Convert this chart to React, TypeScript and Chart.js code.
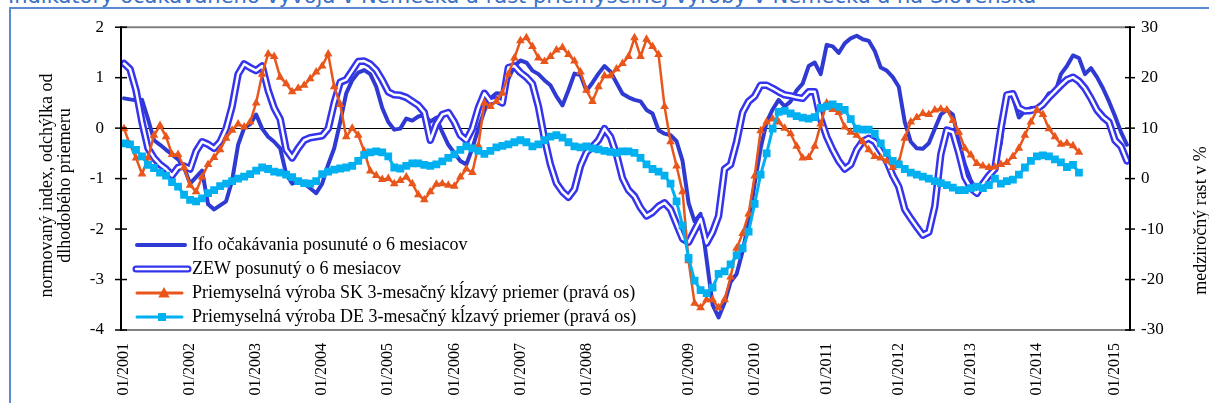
import React, { useEffect, useRef } from 'react';
import { Chart, registerables } from 'chart.js';

Chart.register(...registerables);

const TITLE = 'Indikátory očakávaného vývoja v Nemecku a rast priemyselnej výroby v Nemecku a na Slovensku';
const N_MONTHS = 168;
const tickLabels = ['01/2001', '01/2002', '01/2003', '01/2004', '01/2005', '01/2006', '01/2007', '01/2008', '01/2009', '01/2010', '01/2011', '01/2012', '01/2013', '01/2014', '01/2015'];
const tickIndex = [0, 11, 22, 33, 44, 55, 66, 77, 94, 105, 117, 129, 141, 152, 165];

const seriesNames = [
  'Ifo očakávania posunuté o 6 mesiacov',
  'ZEW posunutý o 6 mesiacov',
  'Priemyselná výroba SK 3-mesačný kĺzavý priemer (pravá os)',
  'Priemyselná výroba DE 3-mesačný kĺzavý priemer (pravá os)',
];
const leftAxisTitle = ['normovaný index, odchýlka od', 'dlhodobého priemeru'];
const rightAxisTitle = 'medziročný rast v %';

const ifo = [
  0.59, 0.57, 0.55, 0.56, 0.18, -0.24, -0.33, -0.43, -0.52, -0.62,
  -0.78, -1.10, -0.97, -0.84, -1.51, -1.61, -1.53, -1.45, -1.04, -0.33,
  0.00, 0.08, 0.27, -0.01, -0.17, -0.27, -0.40, -0.91, -1.10, -1.07,
  -1.10, -1.19, -1.29, -1.10, -0.72, -0.40, 0.12, 0.69, 0.95, 1.10,
  1.15, 1.07, 0.82, 0.40, 0.12, -0.03, -0.01, 0.19, 0.15, 0.23,
  0.26, 0.13, 0.21, -0.08, -0.33, -0.49, -0.65, -0.72, -0.40, -0.01,
  0.34, 0.59, 0.69, 0.68, 0.98, 1.23, 1.34, 1.30, 1.14, 1.07,
  0.95, 0.85, 0.63, 0.45, 0.75, 1.08, 1.05, 0.74, 0.90, 1.08,
  1.23, 1.12, 0.90, 0.68, 0.61, 0.56, 0.53, 0.36, 0.29, -0.04,
  -0.11, -0.14, -0.26, -0.65, -1.48, -1.85, -1.70, -2.60, -3.50, -3.75,
  -3.46, -3.05, -2.89, -2.44, -1.87, -1.10, -0.40, 0.12, 0.37, 0.56,
  0.43, 0.53, 0.75, 0.88, 1.23, 1.30, 1.07, 1.65, 1.62, 1.49,
  1.68, 1.78, 1.83, 1.76, 1.73, 1.53, 1.20, 1.14, 1.01, 0.82,
  0.12, -0.27, -0.40, -0.41, -0.30, -0.01, 0.27, 0.36, 0.27, -0.27,
  -0.72, -1.04, -1.23, -1.10, -0.94, -0.78, -0.30, 0.66, 0.62, 0.21,
  0.34, 0.40, 0.38, 0.50, 0.69, 0.69, 1.07, 1.23, 1.44, 1.39,
  1.07, 1.19, 1.01, 0.79, 0.53, 0.24, -0.08, -0.33,
];

const zew = [
  1.28, 1.17, 0.75, 0.12, -0.40, -0.59, -0.72, -0.81, -0.94, -0.78,
  -0.75, -0.81, -0.46, -0.27, -0.32, -0.40, -0.27, -0.01, 0.43, 1.07,
  1.27, 1.20, 1.14, 1.23, 0.75, 0.40, 0.18, -0.43, -0.59, -0.40,
  -0.24, -0.19, -0.17, -0.15, -0.01, 0.50, 0.91, 0.96, 1.14, 1.32,
  1.33, 1.27, 1.15, 0.95, 0.72, 0.66, 0.65, 0.61, 0.53, 0.45,
  0.31, -0.24, 0.08, 0.27, 0.31, 0.12, -0.14, -0.24, -0.01, 0.40,
  0.69, 0.53, 0.56, 0.50, 1.20, 1.23, 1.10, 1.01, 0.88, 0.43,
  -0.20, -0.72, -1.09, -1.26, -1.37, -1.21, -0.75, -0.48, -0.37, -0.24,
  -0.01, -0.17, -0.52, -0.99, -1.23, -1.35, -1.58, -1.74, -1.67, -1.55,
  -1.48, -1.61, -1.90, -2.19, -2.26, -2.03, -1.80, -2.28, -2.06, -1.74,
  -0.81, -0.72, -0.27, 0.31, 0.53, 0.63, 0.85, 0.85, 0.79, 0.72,
  0.66, 0.64, 0.61, 0.59, 0.72, 0.72, 0.18, -0.17, -0.43, -0.65,
  -0.81, -0.72, -0.43, -0.26, -0.20, -0.27, -0.46, -0.65, -0.94, -1.16,
  -1.61, -1.79, -1.96, -2.12, -2.06, -1.55, -0.52, -0.04, -0.08, -0.49,
  -0.97, -1.19, -1.29, -1.10, -0.94, -0.81, -0.01, 0.66, 0.68, 0.40,
  0.34, 0.35, 0.38, 0.47, 0.61, 0.73, 0.85, 0.96, 1.01, 0.93,
  0.79, 0.59, 0.36, 0.22, 0.12, -0.24, -0.36, -0.65,
];

const sk = [
  9.9, 6.7, 4.1, 0.9, 4.1, 8.6, 10.5, 8.3, 4.8, 4.8,
  2.2, -1.3, -2.6, 0.3, 2.8, 4.2, 5.7, 8.0, 9.6, 10.8,
  10.2, 11.2, 15.0, 20.7, 24.7, 24.2, 20.1, 18.8, 17.2, 17.9,
  18.5, 19.8, 21.1, 22.3, 24.7, 18.2, 14.7, 8.3, 10.0, 8.6,
  5.4, 1.5, 0.6, -0.2, 0.0, -1.0, -0.4, 0.3, -1.0, -3.2,
  -4.2, -2.6, -1.1, -1.0, -1.3, -1.5, 0.3, 1.9, 1.2, 6.5,
  15.0, 14.3, 15.3, 16.9, 20.7, 23.9, 27.3, 27.9, 26.2, 23.9,
  23.2, 24.2, 25.5, 26.0, 24.6, 23.3, 21.1, 17.5, 15.3, 18.2,
  20.4, 20.4, 21.7, 22.8, 24.2, 27.9, 24.2, 27.6, 26.2, 24.6,
  14.3, 7.3, 2.5, -2.6, -16.3, -24.7, -25.6, -24.0, -24.0, -25.6,
  -24.0, -19.5, -13.8, -10.9, -7.0, 0.5, 9.5, 11.2, 11.8, 11.2,
  10.0, 8.9, 6.4, 4.1, 4.2, 6.4, 10.8, 15.0, 13.7, 13.1,
  10.2, 9.2, 8.6, 7.3, 5.7, 4.4, 4.1, 3.5, 2.2, 3.2,
  8.0, 11.2, 12.1, 12.9, 12.7, 13.6, 13.8, 13.6, 11.5, 9.2,
  6.0, 4.7, 3.0, 2.5, 2.2, 2.3, 2.8, 3.2, 4.4, 6.0,
  8.6, 11.2, 13.6, 12.7, 9.9, 8.3, 6.8, 7.0, 6.5, 5.2,
];

const de = [
  7.0, 6.8, 5.7, 4.4, 2.7, 2.1, 1.2, 0.6, -0.7, -1.6,
  -3.2, -4.2, -4.5, -3.9, -2.9, -2.3, -1.5, -1.0, -0.5, 0.0,
  0.4, 0.9, 1.6, 2.2, 1.9, 1.4, 1.2, 0.8, 0.3, -0.5,
  -0.9, -1.0, -0.5, 0.9, 1.4, 1.8, 2.0, 2.2, 2.5, 3.5,
  4.7, 5.2, 5.4, 5.2, 4.4, 2.2, 2.0, 2.5, 3.0, 3.0,
  2.7, 2.5, 2.8, 3.4, 4.1, 4.8, 5.7, 6.4, 6.0, 5.5,
  4.9, 5.5, 6.2, 6.5, 6.8, 7.2, 7.6, 7.2, 6.4, 6.8,
  7.6, 8.3, 8.6, 8.1, 7.2, 6.4, 6.2, 6.4, 6.0, 5.8,
  5.5, 5.3, 5.1, 5.4, 5.4, 5.1, 4.1, 2.8, 1.9, 1.4,
  0.6, -1.0, -4.5, -9.3, -15.7, -20.2, -22.1, -22.7, -21.6, -18.9,
  -18.4, -17.0, -15.2, -13.8, -10.5, -5.0, 0.8, 5.0, 9.9, 13.2,
  13.4, 12.9, 12.4, 12.1, 11.9, 12.2, 14.0, 14.3, 14.7, 14.2,
  13.6, 11.8, 9.9, 9.7, 9.7, 8.9, 7.0, 5.1, 3.5, 2.8,
  1.9, 1.2, 0.8, 0.4, 0.0, -0.5, -0.9, -1.3, -1.8, -2.3,
  -2.3, -1.9, -1.6, -1.9, -1.3, 0.0, -1.0, -0.5, -0.2, 0.8,
  2.2, 3.5, 4.4, 4.6, 4.4, 3.8, 3.2, 2.3, 2.7, 1.2,
];

const FONT = '"Liberation Serif", "Times New Roman", serif';
const IFO_C = '#2F3AD2';
const ZEW_C = '#3434EE';
const SK_C = '#E8561C';
const DE_C = '#00B0F0';

function drawTriangle(ctx: CanvasRenderingContext2D, x: number, y: number, r: number) {
  ctx.beginPath();
  ctx.moveTo(x, y - r);
  ctx.lineTo(x + r * 0.95, y + r * 0.75);
  ctx.lineTo(x - r * 0.95, y + r * 0.75);
  ctx.closePath();
  ctx.fill();
}

const decor = {
  id: 'decor',
  afterDraw(chart: any) {
    const { ctx, chartArea: a, scales } = chart;
    const line = (x1: number, y1: number, x2: number, y2: number) => {
      ctx.beginPath();
      ctx.moveTo(x1, y1);
      ctx.lineTo(x2, y2);
      ctx.stroke();
    };
    ctx.save();
    ctx.lineCap = 'butt';
    ctx.strokeStyle = '#808080';
    ctx.lineWidth = 2;
    line(a.left, a.top, a.right, a.top);
    line(a.left, a.bottom, a.right, a.bottom);
    ctx.strokeStyle = '#000';
    line(a.left, a.top - 1, a.left, a.bottom + 1);
    line(a.right, a.top - 1, a.right, a.bottom + 1);
    ctx.lineWidth = 1.5;
    scales.y.ticks.forEach((t: any) => {
      const y = scales.y.getPixelForValue(t.value);
      line(a.left - 6, y, a.left + 6, y);
    });
    scales.y1.ticks.forEach((t: any) => {
      const y = scales.y1.getPixelForValue(t.value);
      line(a.right - 5, y, a.right + 5, y);
    });

    // axis titles
    ctx.fillStyle = '#000';
    ctx.font = `18px ${FONT}`;
    ctx.textAlign = 'center';
    ctx.textBaseline = 'middle';
    const cy = (a.top + a.bottom) / 2;
    leftAxisTitle.forEach((s, k) => {
      ctx.save();
      ctx.translate(a.left - 74 + 18 * k, cy + 7);
      ctx.rotate(-Math.PI / 2);
      ctx.fillText(s, 0, 0);
      ctx.restore();
    });
    ctx.save();
    ctx.translate(a.right + 71, cy + 42);
    ctx.rotate(-Math.PI / 2);
    ctx.fillText(rightAxisTitle, 0, 0);
    ctx.restore();

    // legend
    const x0 = a.left + 16;
    const x1 = a.left + 64;
    const xm = (x0 + x1) / 2;
    ctx.lineCap = 'round';
    seriesNames.forEach((name, k) => {
      const y = a.bottom - 85 + 24 * k;
      if (k === 0) {
        ctx.strokeStyle = IFO_C; ctx.lineWidth = 4; line(x0, y, x1, y);
      } else if (k === 1) {
        ctx.strokeStyle = ZEW_C; ctx.lineWidth = 7; line(x0 - 1, y, x1 + 3, y);
        ctx.strokeStyle = '#fff'; ctx.lineWidth = 2.5; line(x0 - 1, y, x1 + 3, y);
      } else if (k === 2) {
        ctx.strokeStyle = SK_C; ctx.lineWidth = 3; line(x0, y, x1 - 3, y);
        ctx.fillStyle = SK_C; drawTriangle(ctx, xm + 3, y, 6);
      } else {
        ctx.strokeStyle = DE_C; ctx.lineWidth = 3; line(x0, y, x1 - 3, y);
        ctx.fillStyle = DE_C; ctx.fillRect(xm - 3, y - 4, 8, 8);
      }
      ctx.fillStyle = '#000';
      ctx.textAlign = 'left';
      ctx.textBaseline = 'middle';
      ctx.font = `18px ${FONT}`;
      ctx.fillText(name, a.left + 71, y);
    });
    ctx.restore();
  },
};

export default function App() {
  const ref = useRef<HTMLCanvasElement>(null);
  useEffect(() => {
    const labels = Array.from({ length: N_MONTHS }, (_, i) => {
      const k = tickIndex.indexOf(i);
      return k >= 0 ? tickLabels[k] : '';
    });
    const common = { pointRadius: 0, borderJoinStyle: 'round' as const, borderCapStyle: 'round' as const, tension: 0 };
    const chart = new Chart(ref.current as HTMLCanvasElement, {
      type: 'line',
      data: {
        labels,
        datasets: [
          { ...common, label: seriesNames[3], data: de, yAxisID: 'y1', borderColor: DE_C, backgroundColor: DE_C, borderWidth: 3, pointStyle: 'rect', pointRadius: 5.5, pointBorderWidth: 0, order: 0 },
          { ...common, label: seriesNames[2], data: sk, yAxisID: 'y1', borderColor: SK_C, backgroundColor: SK_C, borderWidth: 2.5, pointStyle: 'triangle', pointRadius: 5, pointBorderWidth: 0, order: 1 },
          { ...common, label: seriesNames[1] + ' inner', data: zew, yAxisID: 'y', borderColor: '#ffffff', borderWidth: 2.5, order: 2 },
          { ...common, label: seriesNames[1], data: zew, yAxisID: 'y', borderColor: ZEW_C, borderWidth: 7.5, order: 3 },
          { ...common, label: seriesNames[0], data: ifo, yAxisID: 'y', borderColor: IFO_C, borderWidth: 4, order: 4 },
        ],
      },
      options: {
        responsive: false,
        animation: false,
        events: [],
        layout: { padding: { top: 17, left: 0, right: 0, bottom: 0 } },
        plugins: { legend: { display: false }, tooltip: { enabled: false } },
        scales: {
          x: {
            type: 'category',
            offset: true,
            grid: { display: false, drawTicks: false },
            border: { display: false },
            ticks: { autoSkip: false, maxRotation: 90, minRotation: 90, padding: 13, color: '#000', font: { family: FONT, size: 16 } },
            afterFit: (s: any) => { s.height = 73; },
          },
          y: {
            position: 'left',
            min: -4,
            max: 2,
            ticks: { stepSize: 1, padding: 17, color: '#000', font: { family: FONT, size: 17 } },
            grid: { drawTicks: false, lineWidth: 1, color: (c: any) => (c.tick && c.tick.value === 0 ? '#000' : 'rgba(0,0,0,0)') },
            border: { display: false },
            afterFit: (s: any) => { s.width = 121; },
          },
          y1: {
            position: 'right',
            min: -30,
            max: 30,
            ticks: { stepSize: 10, padding: 11, color: '#000', font: { family: FONT, size: 17 } },
            grid: { display: false, drawTicks: false },
            border: { display: false },
            afterFit: (s: any) => { s.width = 79; },
          },
        },
      },
      plugins: [decor],
    });
    return () => chart.destroy();
  }, []);

  return (
    <div style={{ position: 'fixed', left: 0, top: 0, width: 1209, height: 403, overflow: 'hidden', background: '#fff' }}>
      <div style={{ position: 'absolute', left: 8, top: -14, whiteSpace: 'nowrap', fontFamily: '"DejaVu Sans", Verdana, sans-serif', fontSize: 21, lineHeight: '21px', color: '#3B70C4' }}>{TITLE}</div>
      <div style={{ position: 'absolute', left: 9, top: 7, width: 1400, height: 600, borderLeft: '2px solid #5B8BD3', borderTop: '2px solid #5B8BD3' }} />
      <canvas ref={ref} width={1209} height={403} style={{ position: 'absolute', left: 0, top: 0, display: 'block' }} />
    </div>
  );
}
